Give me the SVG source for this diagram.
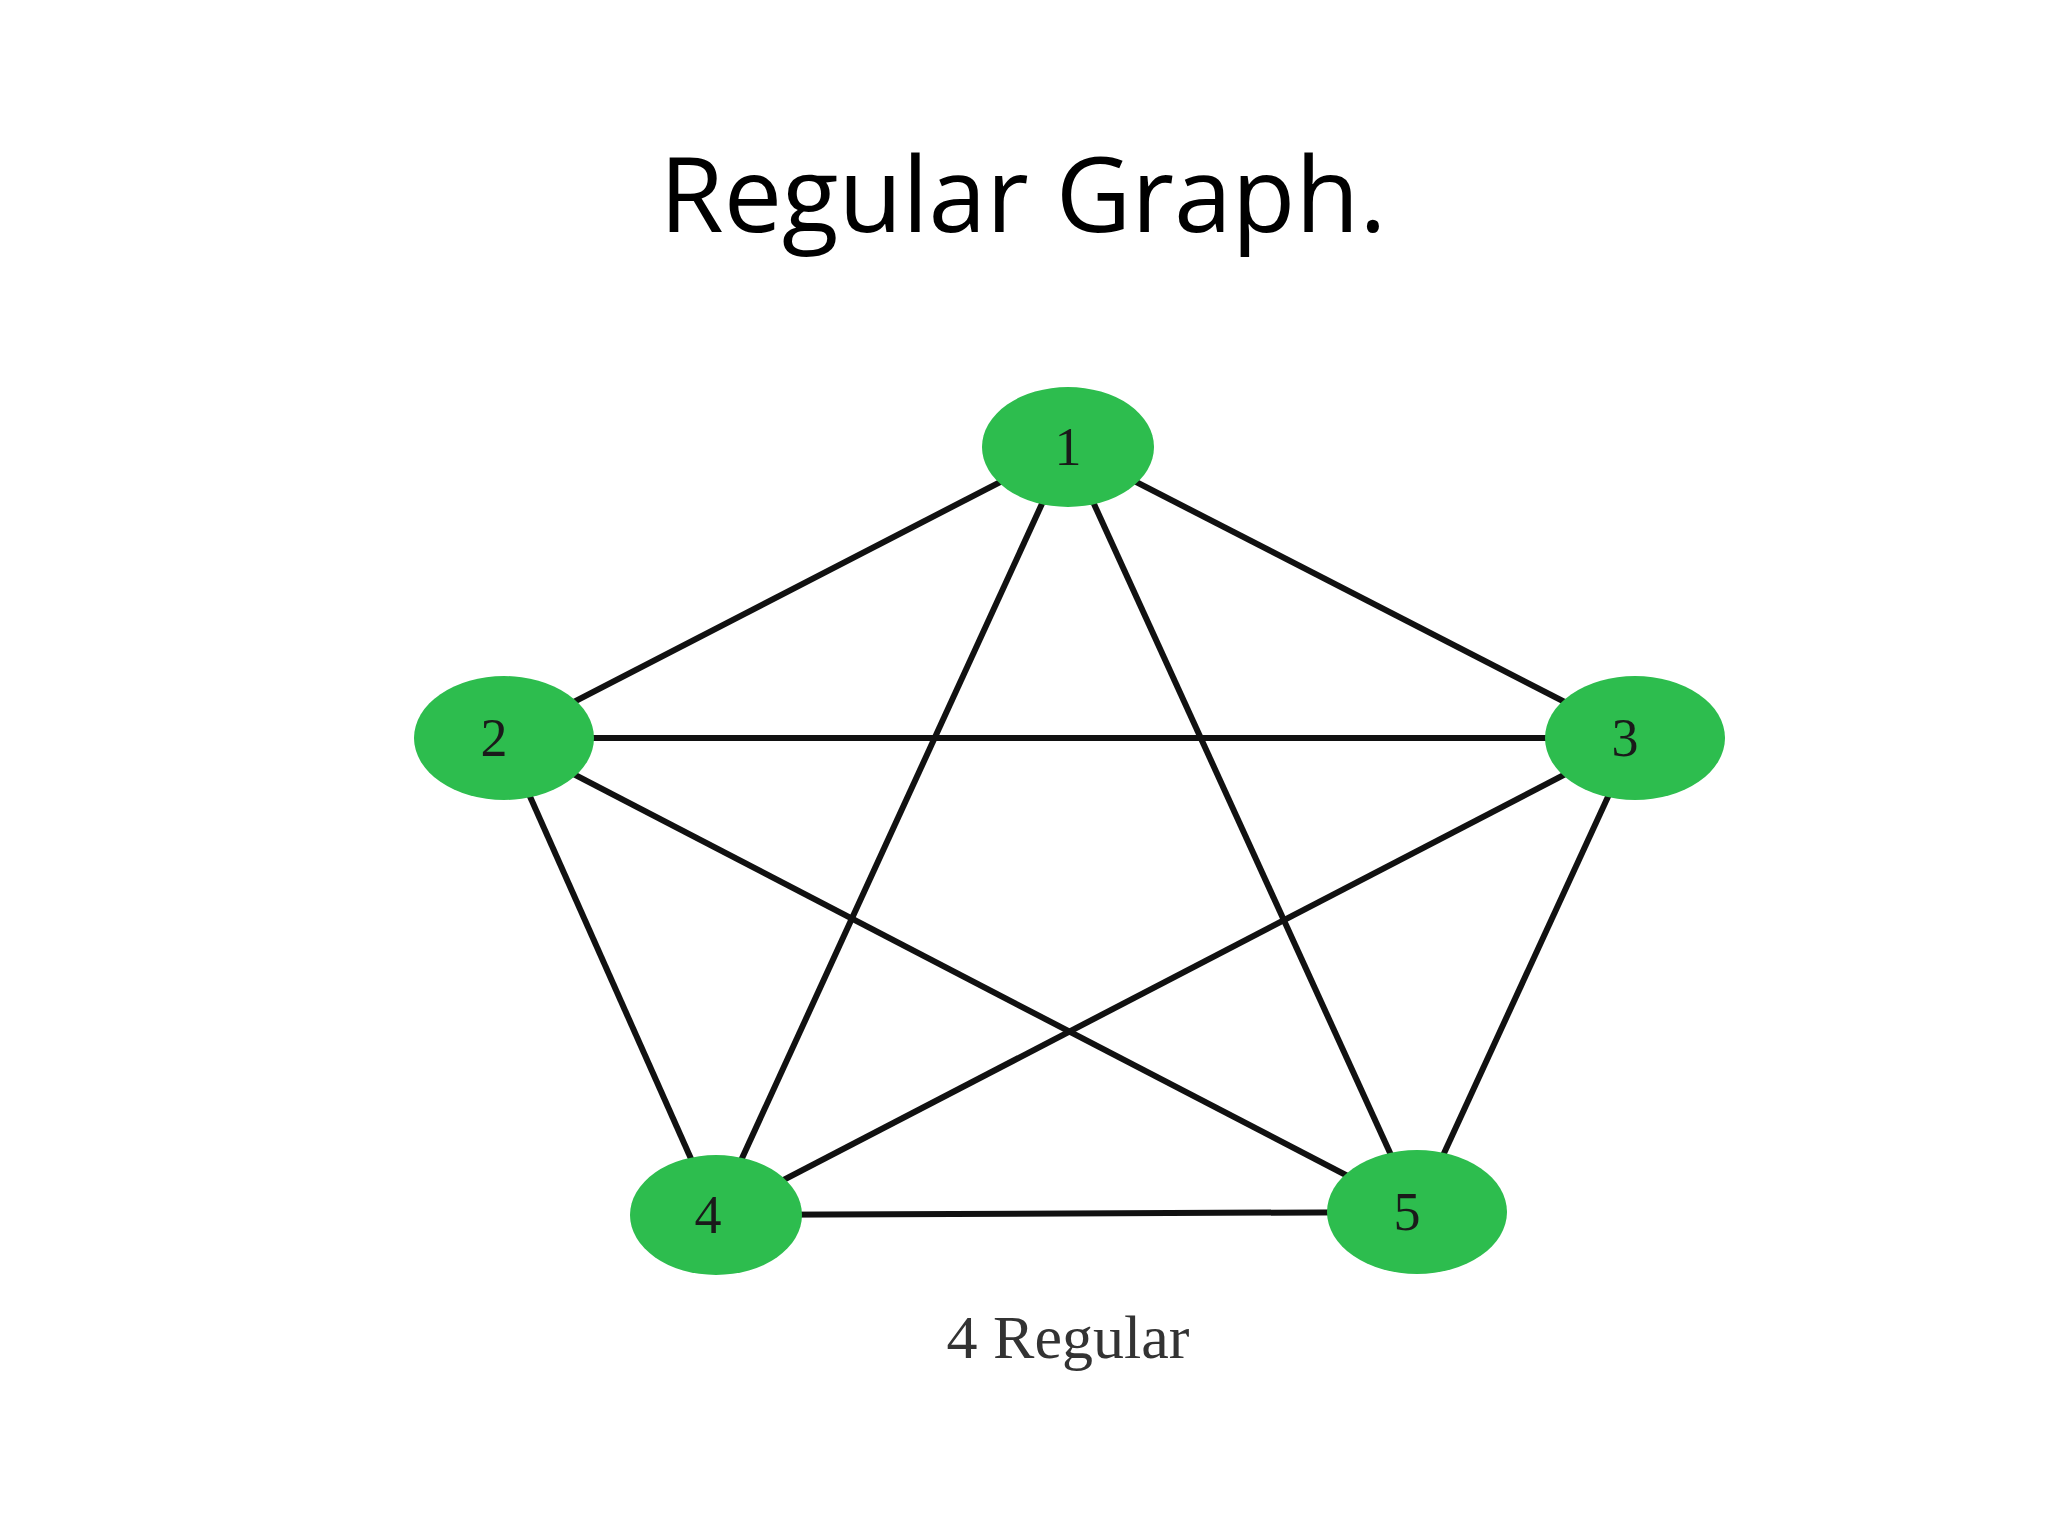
<svg xmlns="http://www.w3.org/2000/svg" width="2048" height="1536" viewBox="0 0 2048 1536">
<style>
.e{stroke:#111;stroke-width:6;fill:none}
.n{fill:#2dbd4e}
.t{font-family:"Liberation Serif",serif;font-size:54px;fill:#1a1a1a;text-anchor:middle}
</style>
<rect width="2048" height="1536" fill="#fff"/>
<text x="1023" y="232" font-family="'Open Sans','Noto Sans',sans-serif" font-size="104" text-anchor="middle" fill="#000">Regular Graph.</text>
<g id="edges">
<line class="e" x1="1068" y1="447" x2="504" y2="738"/>
<line class="e" x1="1068" y1="447" x2="1635" y2="738"/>
<line class="e" x1="1068" y1="447" x2="716" y2="1215"/>
<line class="e" x1="1068" y1="447" x2="1417" y2="1212"/>
<line class="e" x1="504" y1="738" x2="1635" y2="738"/>
<line class="e" x1="504" y1="738" x2="716" y2="1215"/>
<line class="e" x1="504" y1="738" x2="1417" y2="1212"/>
<line class="e" x1="1635" y1="738" x2="716" y2="1215"/>
<line class="e" x1="1635" y1="738" x2="1417" y2="1212"/>
<line class="e" x1="716" y1="1215" x2="1417" y2="1212"/>
</g>
<g id="n1"><ellipse class="n" cx="1068" cy="447" rx="86" ry="60"/><text class="t" x="1068" y="465">1</text></g>
<g id="n2"><ellipse class="n" cx="504" cy="738" rx="90" ry="62"/><text class="t" x="494" y="756">2</text></g>
<g id="n3"><ellipse class="n" cx="1635" cy="738" rx="90" ry="62"/><text class="t" x="1625" y="756">3</text></g>
<g id="n4"><ellipse class="n" cx="716" cy="1215" rx="86" ry="60"/><text class="t" x="708" y="1233">4</text></g>
<g id="n5"><ellipse class="n" cx="1417" cy="1212" rx="90" ry="62"/><text class="t" x="1407" y="1230">5</text></g>
<text x="1068" y="1358" font-family="'Liberation Serif',serif" font-size="62" text-anchor="middle" fill="#333">4 Regular</text>
</svg>
